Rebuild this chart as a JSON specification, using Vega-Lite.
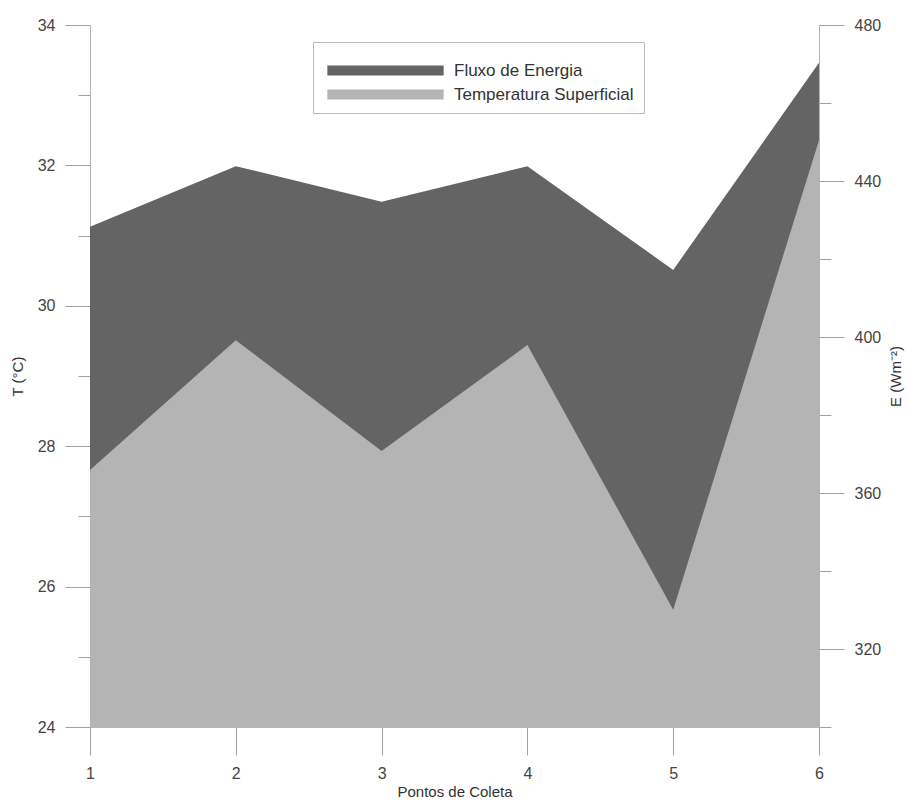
{
  "$schema": "https://vega.github.io/schema/vega-lite/v6.json",
  "width": 729,
  "height": 702,
  "autosize": {"type": "none"},
  "padding": {"left": 90, "top": 25, "right": 90, "bottom": 73},
  "background": "white",
  "config": {
    "view": {"stroke": null},
    "font": "Liberation Sans",
    "axis": {
      "grid": false,
      "domainColor": "#b4b4b4",
      "tickColor": "#a0a0a0",
      "labelColor": "#444444",
      "titleColor": "#333333",
      "labelFont": "Liberation Sans",
      "titleFont": "Liberation Sans",
      "labelFontSize": 16,
      "titleFontSize": 15,
      "titleFontWeight": "normal",
      "labelFlush": false,
      "labelOverlap": false
    }
  },
  "datasets": {
    "energia": [
      {"ponto": 1, "serie": "Fluxo de Energia", "E": 428.3},
      {"ponto": 2, "serie": "Fluxo de Energia", "E": 443.8},
      {"ponto": 3, "serie": "Fluxo de Energia", "E": 434.7},
      {"ponto": 4, "serie": "Fluxo de Energia", "E": 443.8},
      {"ponto": 5, "serie": "Fluxo de Energia", "E": 417.2},
      {"ponto": 6, "serie": "Fluxo de Energia", "E": 470.3}
    ],
    "temp": [
      {"ponto": 1, "serie": "Temperatura Superficial", "T": 27.66},
      {"ponto": 2, "serie": "Temperatura Superficial", "T": 29.51},
      {"ponto": 3, "serie": "Temperatura Superficial", "T": 27.93},
      {"ponto": 4, "serie": "Temperatura Superficial", "T": 29.44},
      {"ponto": 5, "serie": "Temperatura Superficial", "T": 25.67},
      {"ponto": 6, "serie": "Temperatura Superficial", "T": 32.36}
    ]
  },
  "layer": [
    {
      "data": {"name": "energia"},
      "mark": {"type": "area", "clip": true, "opacity": 1},
      "encoding": {
        "x": {
          "field": "ponto", "type": "quantitative",
          "scale": {"domain": [1, 6], "nice": false, "zero": false},
          "axis": {
            "orient": "bottom",
            "title": "Pontos de Coleta",
            "values": [1, 2, 3, 4, 5, 6],
            "format": "d",
            "tickSize": 28,
            "labelPadding": 10,
            "titlePadding": 3,
            "titleFontSize": 15
          }
        },
        "y": {
          "field": "E", "type": "quantitative", "stack": null,
          "scale": {"domain": [300, 480], "nice": false, "zero": false},
          "axis": {
            "orient": "right",
            "title": "E (Wm⁻²)",
            "values": [300, 320, 340, 360, 380, 400, 420, 440, 460, 480],
            "labelExpr": "(datum.value - 320) % 40 == 0 ? datum.label : ''",
            "tickSize": {"condition": {"test": "(datum.value - 320) % 40 == 0", "value": 25}, "value": 12},
            "labelPadding": 10,
            "titleAngle": -90,
            "titleBaseline": "top",
            "titlePadding": 8
          }
        },
        "color": {
          "field": "serie", "type": "nominal",
          "scale": {"domain": ["Fluxo de Energia", "Temperatura Superficial"], "range": ["#646464", "#b4b4b4"]},
          "legend": {
            "title": " ",
            "titleFontSize": 10,
            "titlePadding": 0,
            "orient": "none",
            "legendX": 223,
            "legendY": 17,
            "padding": 10,
            "strokeColor": "#bbbbbb",
            "fillColor": "white",
            "symbolType": "M-0.5,-0.6L13.5,-0.6L13.5,0.6L-0.5,0.6Z",
            "symbolSize": 276,
            "symbolStrokeWidth": 0,
            "symbolOpacity": 1,
            "labelOffset": 114,
            "labelFontSize": 17,
            "labelFont": "Liberation Sans",
            "labelColor": "#333333",
            "rowPadding": 6,
            "labelLimit": 400
          }
        }
      }
    },
    {
      "data": {"name": "temp"},
      "mark": {"type": "area", "clip": true, "opacity": 1},
      "encoding": {
        "x": {
          "field": "ponto", "type": "quantitative",
          "scale": {"domain": [1, 6], "nice": false, "zero": false},
          "axis": {
            "orient": "bottom",
            "title": "Pontos de Coleta",
            "values": [1, 2, 3, 4, 5, 6],
            "format": "d",
            "tickSize": 28,
            "labelPadding": 10,
            "titlePadding": 3,
            "titleFontSize": 15
          }
        },
        "y": {
          "field": "T", "type": "quantitative", "stack": null,
          "scale": {"domain": [24, 34], "nice": false, "zero": false},
          "axis": {
            "orient": "left",
            "title": "T (°C)",
            "values": [24, 25, 26, 27, 28, 29, 30, 31, 32, 33, 34],
            "labelExpr": "datum.value % 2 == 0 ? datum.label : ''",
            "tickSize": {"condition": {"test": "datum.value % 2 == 0", "value": 25}, "value": 12},
            "labelPadding": 10,
            "titlePadding": 12
          }
        },
        "color": {
          "field": "serie", "type": "nominal",
          "scale": {"domain": ["Fluxo de Energia", "Temperatura Superficial"], "range": ["#646464", "#b4b4b4"]},
          "legend": {
            "title": " ",
            "titleFontSize": 10,
            "titlePadding": 0,
            "orient": "none",
            "legendX": 223,
            "legendY": 17,
            "padding": 10,
            "strokeColor": "#bbbbbb",
            "fillColor": "white",
            "symbolType": "M-0.5,-0.6L13.5,-0.6L13.5,0.6L-0.5,0.6Z",
            "symbolSize": 276,
            "symbolStrokeWidth": 0,
            "symbolOpacity": 1,
            "labelOffset": 114,
            "labelFontSize": 17,
            "labelFont": "Liberation Sans",
            "labelColor": "#333333",
            "rowPadding": 6,
            "labelLimit": 400
          }
        }
      }
    }
  ],
  "resolve": {"scale": {"y": "independent"}}
}
